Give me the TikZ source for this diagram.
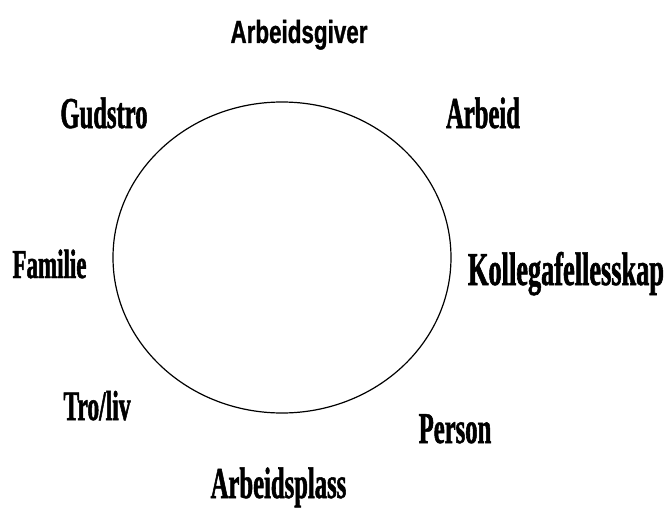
\documentclass[tikz,border=0pt]{standalone}
\usepackage{fontspec}
\usepackage{tikz}
\usetikzlibrary{shapes.geometric}
\newfontfamily\condserif[FakeStretch=0.56, FakeBold=1.2, UprightFont={* Bold}]{Liberation Serif}
\newfontfamily\condsans[FakeStretch=0.7, FakeBold=0.8, UprightFont={* Bold}]{Liberation Sans}

\begin{document}
\begin{tikzpicture}[
  x=1pt, y=-1pt,
  word/.style={inner sep=0pt, anchor=base, font=\condserif\fontsize{44}{44}\selectfont},
  ring/.style={ellipse, draw, line width=1.2pt, inner sep=0pt, minimum width=338pt, minimum height=311pt},
]
  \useasboundingbox (0,0) rectangle (664,511);

  \node[ring] (wheel) at (282,257.5) {};

  % Labels round the ring
  \node[word, font=\condsans\fontsize{32}{32}\selectfont] (giver) at (299,43) {Arbeidsgiver};
  \node[word] (gud) at (104,128) {Gudstro};
  \node[word] (arbeid) at (483,128) {Arbeid};
  \node[word, font=\condserif\fontsize{41}{41}\selectfont] (familie) at (49.5,278) {Familie};
  \node[word, font=\condserif\fontsize{47}{47}\selectfont] (kolleger) at (566,285) {Kollegafellesskap};
  \node[word, font=\condserif\fontsize{42}{42}\selectfont] (troliv) at (97,420) {Tro/liv};
  \node[word] (person) at (455,443) {Person};
  \node[word] (plass) at (278.5,498) {Arbeidsplass};
\end{tikzpicture}
\end{document}
